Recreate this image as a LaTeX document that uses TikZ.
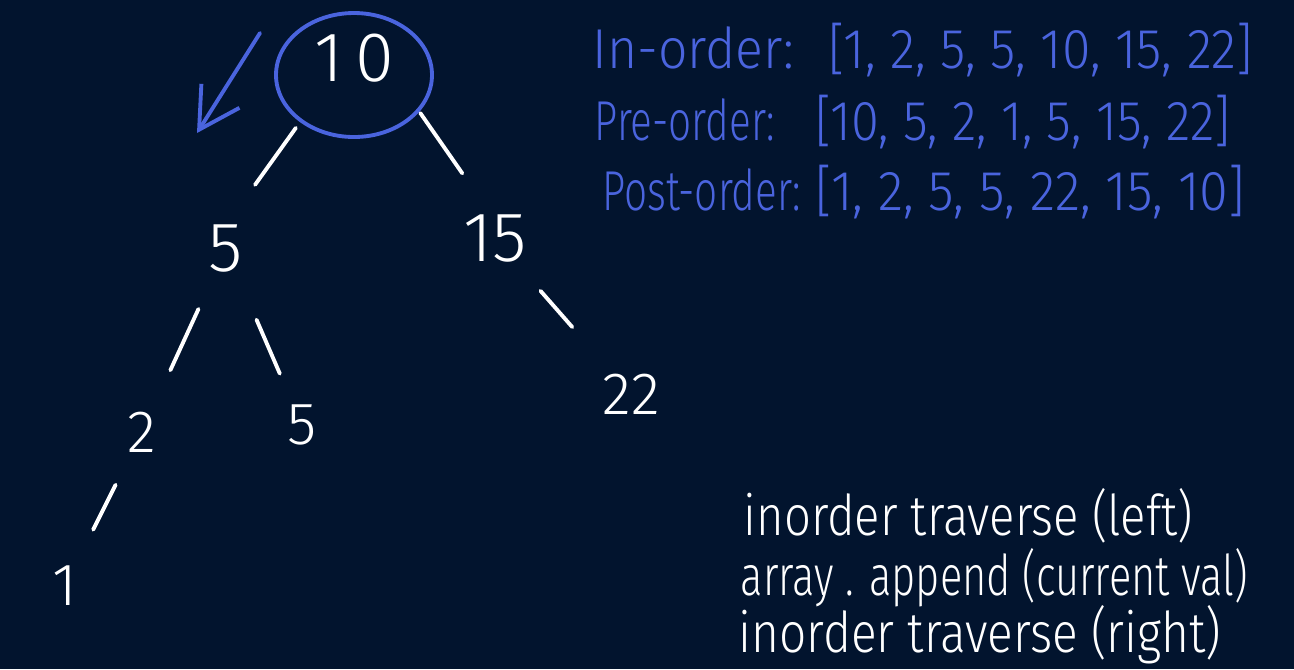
\documentclass[tikz,border=0pt]{standalone}
\usepackage{fontspec}
\setmainfont{Fira Sans Light}
\usepackage{graphicx}
\usepackage{tikz}
\usetikzlibrary{positioning,arrows.meta}

\definecolor{board}{RGB}{2,20,46}
\definecolor{pen}{RGB}{74,100,222}
\newcommand{\hsquash}[2]{\scalebox{#1}[1]{#2}}

\tikzset{
  val/.style={text=white, font=\fontsize{20}{24}\selectfont, inner sep=0pt},
  smallval/.style={val, font=\fontsize{17}{20}\selectfont},
  branch/.style={draw=white, line width=1.1pt, line cap=round},
  note/.style={text=pen, font=\fontsize{16}{19}\selectfont, inner sep=0pt, anchor=base west},
  code/.style={text=white, font=\fontsize{16}{19}\selectfont, inner sep=0pt, anchor=base west}
}

\begin{document}
\begin{tikzpicture}[y=-1cm]
  
  \fill[board] (0,0) rectangle (12.94,6.69);
  \useasboundingbox (0,0) rectangle (12.94,6.69);
  
  % the tree
  \node[val] (root) at (3.54,0.58) {1\,0};
  \node[val] (n5) at (2.26,2.49) {5};
  \node[val] (n15) at (4.95,2.39) {15};
  \node[smallval] (n2) at (1.42,4.32) {2};
  \node[smallval] (n5b) at (3.02,4.25) {5};
  \node[smallval] (n22) at (6.31,3.94) {22};
  \node[smallval] (n1) at (0.65,5.86) {1};
  
  \draw[branch, shorten <=0.86cm, shorten >=0.79cm] ([xshift=-0.08cm]root.center) -- ([xshift=-0.17cm]n5.center);
  \draw[branch, shorten <=0.67cm, shorten >=0.80cm] ([xshift=0.28cm]root.center) -- ([xshift=0.13cm]n15.center);
  \draw[branch, shorten <=0.66cm, shorten >=0.68cm] (n5.center) -- (n2.center);
  \draw[branch, shorten <=0.77cm, shorten >=0.56cm] (n5.center) -- (n5b.center);
  \draw[branch, shorten <=0.69cm, shorten >=0.89cm] (n15.center) -- (n22.center);
  \draw[branch, shorten <=0.59cm, shorten >=0.63cm] (n2.center) -- (n1.center);
  
  % circled root and the arrow to the left
  \draw[pen, line width=1.1pt] (root.center) ++(0,0.17) ellipse [x radius=0.78, y radius=0.62];
  \coordinate (swoosh) at (2.60,0.33);
  \coordinate (swooshend) at (1.97,1.33);
  \draw[pen, line width=1.1pt, line cap=round, -{Straight Barb[length=4mm, width=4.5mm]}] (swoosh) -- (swooshend);
  
  % the three traversals
  \node[note] (inlabel) at (5.92,0.68) {\hsquash{0.92}{In-order:}};
  \node[note] (inlist) at (8.28,0.68) {\hsquash{0.92}{[1, 2, 5, 5, 10, 15, 22]}};
  \node[note] (prelabel) at (5.94,1.40) {\hsquash{0.72}{Pre-order:}};
  \node[note] (prelist) at (8.15,1.40) {\hsquash{0.9}{[10, 5, 2, 1, 5, 15, 22]}};
  \node[note] (postlabel) at (6.02,2.10) {\hsquash{0.72}{Post-order:}};
  \node[note] (postlist) at (8.15,2.10) {\hsquash{0.93}{[1, 2, 5, 5, 22, 15, 10]}};
  
  % recursion
  \node[code] (lineA) at (7.43,5.35) {\hsquash{0.84}{inorder traverse (left)}};
  \node[code] (lineB) at (7.40,5.95) {\hsquash{0.74}{array . append (current val)}};
  \node[code] (lineC) at (7.38,6.52) {\hsquash{0.85}{inorder traverse (right)}};
\end{tikzpicture}
\end{document}
